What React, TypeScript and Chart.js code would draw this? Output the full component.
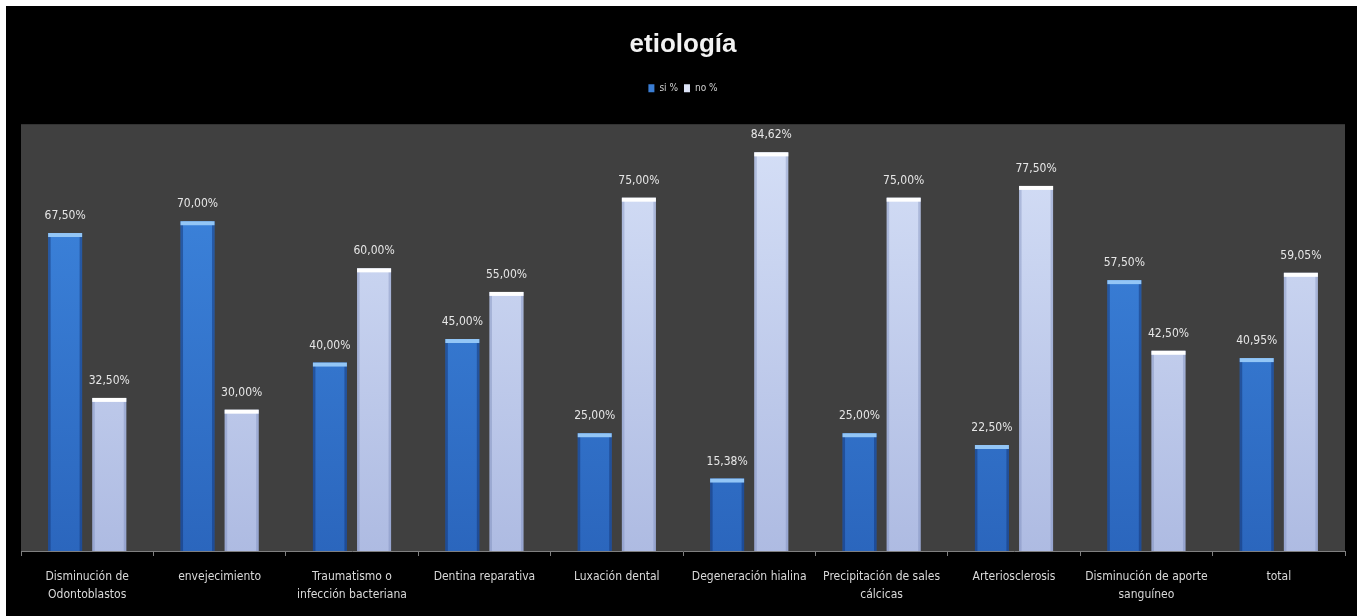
import React, { useEffect, useRef } from "react";
import { Chart, registerables } from "chart.js";

Chart.register(...registerables);

const categories: (string | string[])[] = [
  ["Disminución de", "Odontoblastos"],
  "envejecimiento",
  ["Traumatismo o", "infección bacteriana"],
  "Dentina reparativa",
  "Luxación dental",
  "Degeneración hialina",
  ["Precipitación de sales", "cálcicas"],
  "Arteriosclerosis",
  ["Disminución de aporte", "sanguíneo"],
  "total",
];
const siValues = [67.5, 70, 40, 45, 25, 15.38, 25, 22.5, 57.5, 40.95];
const noValues = [32.5, 30, 60, 55, 75, 84.62, 75, 77.5, 42.5, 59.05];
const seriesNames = ["si %", "no %"];
const chartTitle = "etiología";

const NARROW = '"DejaVu Sans Condensed", "Liberation Sans", sans-serif';

const fmt = (v: number) => v.toFixed(2).replace(".", ",") + "%";

export default function App() {
  const ref = useRef<HTMLCanvasElement>(null);

  useEffect(() => {
    document.body.style.margin = "0";
    const canvas = ref.current!;

    const bgPlugin = {
      id: "plotBg",
      beforeDraw(chart: any) {
        const { ctx, chartArea: a } = chart;
        ctx.save();
        ctx.fillStyle = "#404040";
        ctx.fillRect(a.left, a.top, a.right - a.left, a.bottom - a.top);
        ctx.restore();
      },
    };

    const barDeco = {
      id: "barDeco",
      afterDatasetsDraw(chart: any) {
        const { ctx } = chart;
        ctx.save();
        chart.data.datasets.forEach((ds: any, di: number) => {
          const meta = chart.getDatasetMeta(di);
          meta.data.forEach((bar: any, i: number) => {
            const { x, y, base, width } = bar.getProps(["x", "y", "base", "width"], true);
            const left = x - width / 2;
            const h = base - y;
            ctx.fillStyle = di === 0 ? "rgba(15,45,105,0.45)" : "rgba(110,125,175,0.35)";
            ctx.fillRect(left, y, 2.5, h);
            ctx.fillRect(left + width - 2.5, y, 2.5, h);
            ctx.fillStyle = di === 0 ? "#93c6f6" : "#ffffff";
            ctx.fillRect(left, y, width, 4);
            ctx.fillStyle = "#e6e6e6";
            ctx.font = `12px ${NARROW}`;
            ctx.textAlign = "center";
            ctx.textBaseline = "middle";
            ctx.fillText(fmt(ds.data[i]), x, y - 17);
          });
        });
        ctx.restore();
      },
    };

    const grad = (top: string, bottom: string, fallback: string) => (c: any) => {
      const a = c.chart.chartArea;
      if (!a) return fallback;
      const g = c.chart.ctx.createLinearGradient(0, a.top, 0, a.bottom);
      g.addColorStop(0, top);
      g.addColorStop(1, bottom);
      return g;
    };

    const chart = new Chart(canvas, {
      type: "bar",
      data: {
        labels: categories,
        datasets: [
          {
            label: seriesNames[0],
            data: siValues,
            backgroundColor: grad("#3f88e0", "#2b66bd", "#3a7dd3"),
            barPercentage: 0.77,
            categoryPercentage: 0.667,
          },
          {
            label: seriesNames[1],
            data: noValues,
            backgroundColor: grad("#d6e0f7", "#aebbe2", "#c5d0ee"),
            barPercentage: 0.77,
            categoryPercentage: 0.667,
          },
        ],
      },
      options: {
        animation: false,
        responsive: false,
        maintainAspectRatio: false,
        layout: { padding: { left: 15, right: 12, top: 0, bottom: 0 } },
        plugins: {
          title: {
            display: true,
            text: chartTitle,
            color: "#f2f2f2",
            font: { size: 26, weight: "bold", family: '"Liberation Sans", Arial, sans-serif' },
            padding: { top: 23, bottom: 17 },
          },
          legend: {
            display: true,
            position: "top",
            labels: {
              color: "#d0d0d0",
              font: { size: 10, family: NARROW },
              boxWidth: 6,
              boxHeight: 8,
              padding: 6,
              generateLabels: () => [
                { text: seriesNames[0], fillStyle: "#3a7dd3", strokeStyle: "#3a7dd3", lineWidth: 0, fontColor: "#d0d0d0", datasetIndex: 0 },
                { text: seriesNames[1], fillStyle: "#dde4f7", strokeStyle: "#dde4f7", lineWidth: 0, fontColor: "#d0d0d0", datasetIndex: 1 },
              ],
            },
          },
          tooltip: { enabled: false },
        },
        scales: {
          x: {
            offset: true,
            grid: { display: true, drawOnChartArea: false, drawTicks: true, tickLength: 5, color: "#7f7f7f", offset: true },
            border: { display: true, color: "#7f7f7f" },
            ticks: {
              color: "#d9d9d9",
              font: { size: 12, family: NARROW, lineHeight: 1.5 },
              padding: 12,
              maxRotation: 0,
              autoSkip: false,
            },
          },
          x2: {
            type: "category",
            position: "top",
            display: true,
            grid: { display: false },
            border: { display: false },
            ticks: { display: false },
            afterFit: (s: any) => {
              s.height = 21;
            },
          },
          y: {
            display: false,
            min: 0,
            max: 90.6,
          },
        },
      } as any,
      plugins: [bgPlugin, barDeco],
    });

    return () => chart.destroy();
  }, []);

  return (
    <div style={{ position: "relative", width: 1357, height: 616, background: "#ffffff", overflow: "hidden" }}>
      <div style={{ position: "absolute", left: 6, top: 6, width: 1351, height: 610, background: "#000000" }}>
        <canvas ref={ref} width={1351} height={610} style={{ display: "block" }} />
      </div>
    </div>
  );
}
